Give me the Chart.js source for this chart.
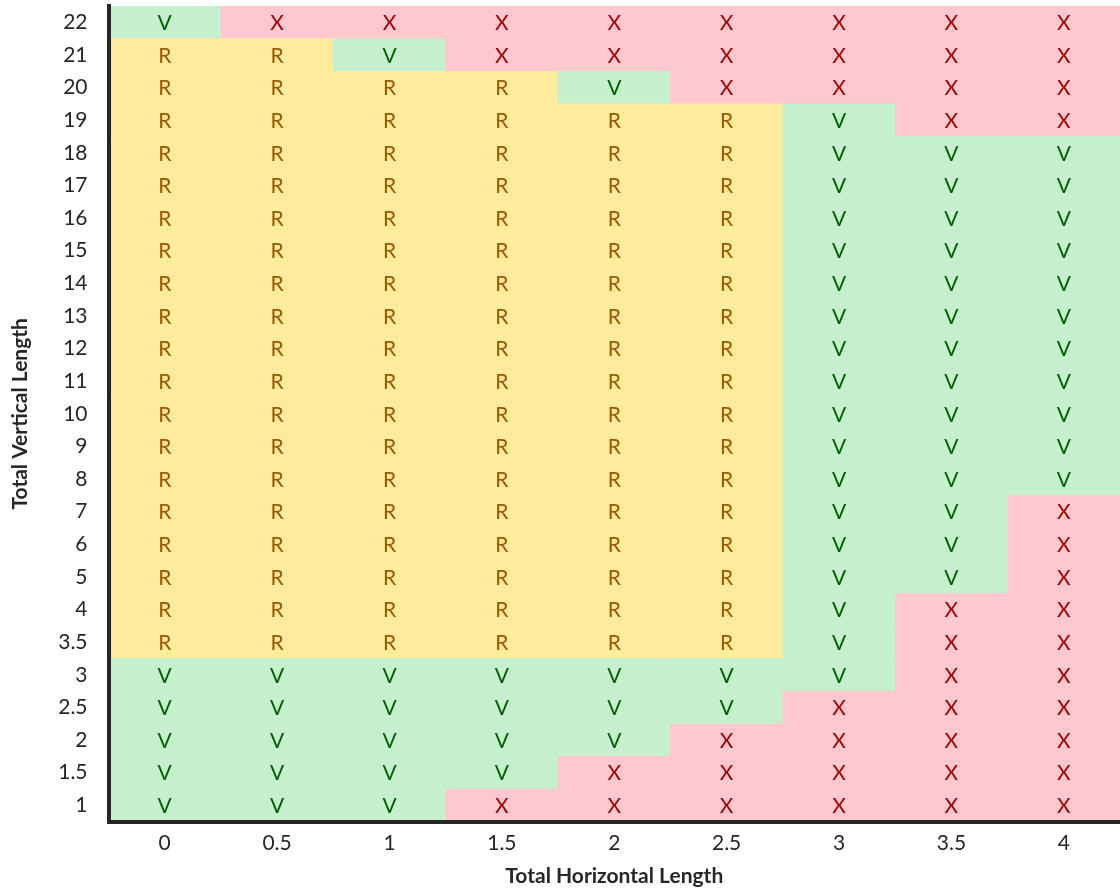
<!DOCTYPE html>
<html>
<head>
<meta charset="utf-8">
<script src="https://cdn.jsdelivr.net/npm/chart.js@4.4.1/dist/chart.umd.min.js"></script>
<style>
  html, body { margin: 0; padding: 0; background: #fff; }
  #wrap { width: 1120px; height: 888px; position: relative; }
</style>
</head>
<body>
<div id="wrap"><canvas id="grid-chart"></canvas></div>
<script>
// x 카테고리 (가로 길이)
const hLabels = ["0", "0.5", "1", "1.5", "2", "2.5", "3", "3.5", "4"];
// y 카테고리 (세로 길이), 위에서 아래 순서
const vLabels = ["22", "21", "20", "19", "18", "17", "16", "15", "14", "13", "12",
  "11", "10", "9", "8", "7", "6", "5", "4", "3.5", "3", "2.5", "2", "1.5", "1"];
// 각 행의 판정 (V / R / X), vLabels 와 같은 순서
const statusRows = [
  "VXXXXXXXX",
  "RRVXXXXXX",
  "RRRRVXXXX",
  "RRRRRRVXX",
  "RRRRRRVVV",
  "RRRRRRVVV",
  "RRRRRRVVV",
  "RRRRRRVVV",
  "RRRRRRVVV",
  "RRRRRRVVV",
  "RRRRRRVVV",
  "RRRRRRVVV",
  "RRRRRRVVV",
  "RRRRRRVVV",
  "RRRRRRVVV",
  "RRRRRRVVX",
  "RRRRRRVVX",
  "RRRRRRVVX",
  "RRRRRRVXX",
  "RRRRRRVXX",
  "VVVVVVVXX",
  "VVVVVVXXX",
  "VVVVVXXXX",
  "VVVVXXXXX",
  "VVVXXXXXX",
];

const fills = { V: "#C6EFCE", R: "#FFEB9C", X: "#FFC7CE" };
const inks = { V: "#006100", R: "#9C5700", X: "#9C0006" };
const font = "Lato, 'Open Sans', sans-serif";

// 아래쪽 행부터 쌓기
const rowsBottomUp = vLabels.map((v, i) => ({ label: v, codes: statusRows[i] })).reverse();

const datasets = rowsBottomUp.map((row) => ({
  label: row.label,
  data: hLabels.map(() => 1),
  codes: row.codes.split(""),
  backgroundColor: row.codes.split("").map((c) => fills[c]),
  borderWidth: 0,
  barPercentage: 1,
  categoryPercentage: 1,
  stack: "s",
}));

// 셀 글자 그리기
const cellText = {
  id: "cellText",
  afterDatasetsDraw(chart) {
    const ctx = chart.ctx;
    ctx.save();
    ctx.font = "21px " + font;
    ctx.textAlign = "center";
    ctx.textBaseline = "middle";
    chart.data.datasets.forEach((ds, di) => {
      chart.getDatasetMeta(di).data.forEach((el, i) => {
        const c = ds.codes[i];
        const p = el.getCenterPoint();
        ctx.fillStyle = inks[c];
        ctx.fillText(c, p.x, p.y + 1);
      });
    });
    ctx.restore();
  },
};

const ctx = document.getElementById("grid-chart");
new Chart(ctx, {
  type: "bar",
  data: { labels: hLabels, datasets: datasets },
  options: {
    responsive: true,
    maintainAspectRatio: false,
    animation: false,
    layout: { padding: { top: 6, right: 0, bottom: -1, left: 8 } },
    plugins: {
      legend: { display: false },
      tooltip: { enabled: false },
    },
    scales: {
      x: {
        stacked: true,
        grid: { display: false },
        border: { display: true, color: "#262626", width: 4, z: 1 },
        ticks: { color: "#262626", font: { family: font, size: 21 }, padding: 1 },
        title: {
          display: true,
          text: "Total Horizontal Length",
          color: "#262626",
          font: { family: font, size: 21, weight: "bold" },
          padding: { top: 7, bottom: 0 },
        },
      },
      y: {
        stacked: true,
        min: 0,
        max: rowsBottomUp.length,
        grid: { display: false },
        border: { display: true, color: "#262626", width: 4, z: 1 },
        afterBuildTicks(scale) {
          scale.ticks = rowsBottomUp.map((r, i) => ({ value: i + 0.5 }));
        },
        afterFit(scale) {
          scale.paddingTop = 0;
          scale.paddingBottom = 0;
        },
        ticks: {
          color: "#262626",
          font: { family: font, size: 21 },
          padding: 13,
          autoSkip: false,
          callback: (value, index) => rowsBottomUp[index].label,
        },
        title: {
          display: true,
          text: "Total Vertical Length",
          color: "#262626",
          font: { family: font, size: 21, weight: "bold" },
          padding: { top: 0, bottom: 12 },
        },
      },
    },
  },
  plugins: [cellText],
});
</script>
</body>
</html>
